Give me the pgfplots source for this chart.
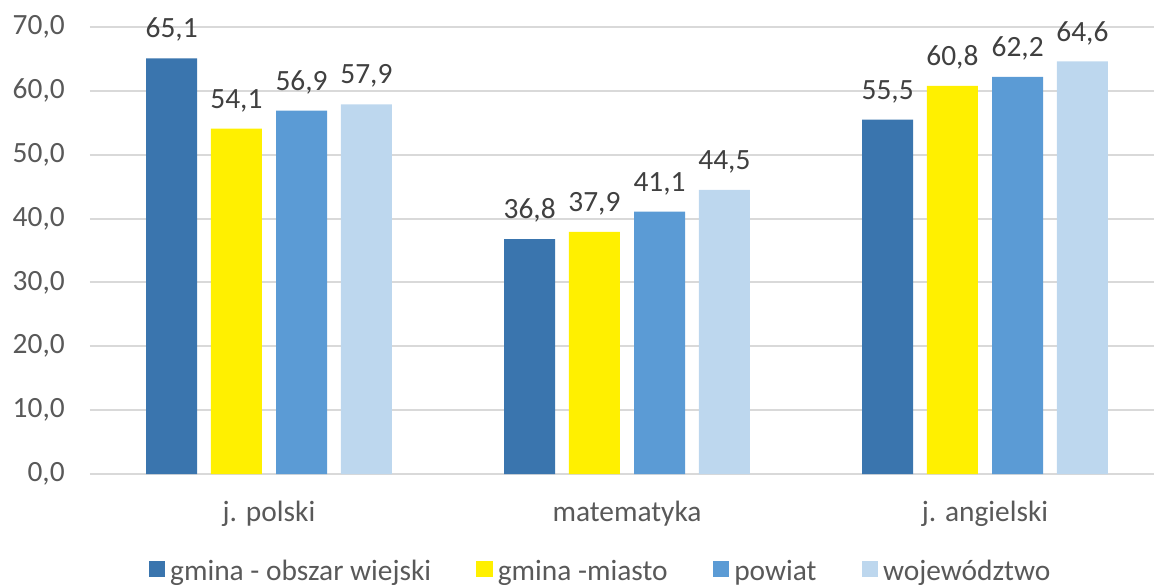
\documentclass[border=0pt]{standalone}
\usepackage{fontspec}
\setmainfont{Carlito}
\usepackage{pgfplots}
\pgfplotsset{compat=1.18}
\definecolor{c1}{HTML}{3A75AE}
\definecolor{c2}{HTML}{FFF000}
\definecolor{c3}{HTML}{5B9BD5}
\definecolor{c4}{HTML}{BDD7EE}
\definecolor{gridc}{HTML}{D9D9D9}
\definecolor{txt}{HTML}{595959}
\definecolor{lab}{HTML}{404040}
\begin{document}
\begin{tikzpicture}
\begin{axis}[
  at={(0pt,0pt)}, anchor=south west,
  scale only axis, width=532pt, height=223.5pt,
  xmin=-0.5, xmax=2.472, ymin=0, ymax=70,
  ybar, bar width=0.1425,
  xtick={0,1,2}, xticklabels={j. polski, matematyka, j. angielski},
  ytick={0,10,...,70},
  ymajorgrids, grid style={draw=gridc, line width=1pt},
  axis x line*=bottom, axis y line*=left,
  x axis line style={draw=gridc, line width=1pt, -},
  y axis line style={draw=none},
  major tick length=0pt,
  tick label style={font=\fontsize{14.7}{17.6}\selectfont, text=txt},
  xticklabel style={anchor=base, yshift=-23.6pt},
  yticklabel style={xshift=-9.1pt},
  nodes near coords,
  every node near coord/.append style={font=\fontsize{14.7}{17.6}\selectfont, text=lab, inner sep=0pt, yshift=8.1pt},
  /pgf/number format/.cd, use comma, fixed, fixed zerofill, precision=1, assume math mode=true,
  /pgfplots/.cd,
  legend style={at={(0.4807,-0.2192)}, anchor=center, draw=none, fill=none,
    font=\fontsize{14.7}{17.6}\selectfont, text=txt, legend columns=4,
    /tikz/every odd column/.append style={column sep=0.6pt},
    /tikz/every even column/.append style={column sep=20.5pt}},
  legend image code/.code={\fill[#1] (0pt,-2.5pt) rectangle (8.2pt,5.5pt);},
]
\addplot[fill=c1, draw=none, bar shift=-0.272] coordinates {(0,65.1) (1,36.8) (2,55.5)};
\addplot[fill=c2, draw=none, bar shift=-0.091] coordinates {(0,54.1) (1,37.9) (2,60.8)};
\addplot[fill=c3, draw=none, bar shift=0.091] coordinates {(0,56.9) (1,41.1) (2,62.2)};
\addplot[fill=c4, draw=none, bar shift=0.272] coordinates {(0,57.9) (1,44.5) (2,64.6)};
\legend{gmina - obszar wiejski, gmina -miasto, powiat, województwo}
\end{axis}
\pgfresetboundingbox
\useasboundingbox (-45pt,-55pt) rectangle (532pt,237pt);
\end{tikzpicture}
\end{document}
